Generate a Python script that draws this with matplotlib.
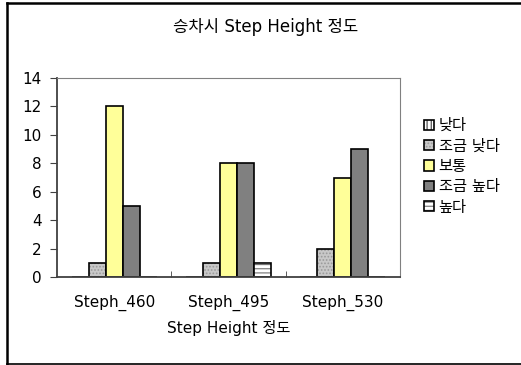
import numpy as np
import matplotlib.pyplot as plt
from matplotlib.patches import Patch
from matplotlib.lines import Line2D

plt.rcParams['font.family'] = ['DejaVu Sans', 'Noto Sans CJK KR']
plt.rcParams['hatch.linewidth'] = 0.8

categories = ['Steph_460', 'Steph_495', 'Steph_530']
series = ['낮다', '조금 낮다', '보통', '조금 높다', '높다']
values = [
    [0, 0, 0],    # 낮다
    [1, 1, 2],    # 조금 낮다
    [12, 8, 7],   # 보통
    [5, 8, 9],    # 조금 높다
    [0, 1, 0],    # 높다
]

# fill colour, hatch, hatch colour
styles = [
    ('white', '||||', '#404040'),
    ('#c8c8c8', '.....', '#9a9a9a'),
    ('#ffff99', '', None),
    ('#808080', '', None),
    ('white', '----', '#707070'),
]

fig = plt.figure(figsize=(5.21, 3.65), dpi=100)
W, H = 521, 365
ax = fig.add_axes([57 / W, 1 - 277 / H, 343 / W, 199 / H])

x = np.arange(len(categories))
width = 0.149
handles = []
for i, (name, vals) in enumerate(zip(series, values)):
    fc, hatch, hc = styles[i]
    pos = x + (i - 2) * width
    if hatch:
        ax.bar(pos, vals, width, color=fc, edgecolor=hc, hatch=hatch, linewidth=0)
    else:
        ax.bar(pos, vals, width, color=fc, linewidth=0)
    ax.bar(pos, vals, width, fill=False, edgecolor='black', linewidth=1.2)
    fill = Patch(facecolor=fc, edgecolor=hc if hatch else fc, hatch=hatch, linewidth=0)
    outline = Patch(fill=False, edgecolor='black', linewidth=1.2)
    handles.append((fill, outline))

ax.set_xlim(-0.5, 2.5)
ax.set_ylim(0, 14)
ax.set_yticks(range(0, 15, 2))
ax.tick_params(axis='y', direction='out', length=5, labelsize=11, pad=6, color='#404040')
ax.set_xticks([0.5, 1.5], minor=True)
ax.set_xticks(x)
ax.set_xticklabels(categories, fontsize=11)
ax.tick_params(axis='x', which='major', length=0, pad=13)
ax.tick_params(axis='x', which='minor', direction='in', length=4, color='#404040')
for s in ['top', 'right']:
    ax.spines[s].set_color('#808080')
for s in ['left', 'bottom']:
    ax.spines[s].set_color('#404040')
    ax.spines[s].set_linewidth(1.3)
ax.set_xlabel('Step Height 정도', fontsize=11, labelpad=6)

fig.text(266 / W, 1 - 27 / H, '승차시 Step Height 정도', fontsize=12,
         ha='center', va='center')

leg = fig.legend(handles, series, loc='upper left',
                 bbox_to_anchor=(418 / W, 1 - 112 / H), frameon=False,
                 fontsize=11, handlelength=0.65, handleheight=0.65,
                 handletextpad=0.3, labelspacing=0.35, borderaxespad=0)

# outer chart border
fig.add_artist(Line2D([7 / W, 7 / W], [1 - 3 / H, 1 - 364 / H], color='black', lw=1.8))
fig.add_artist(Line2D([7 / W, 1], [1 - 3 / H, 1 - 3 / H], color='black', lw=1.8))
fig.add_artist(Line2D([7 / W, 1], [1 - 364 / H, 1 - 364 / H], color='black', lw=1.2))

fig.savefig('out.png', dpi=100)
